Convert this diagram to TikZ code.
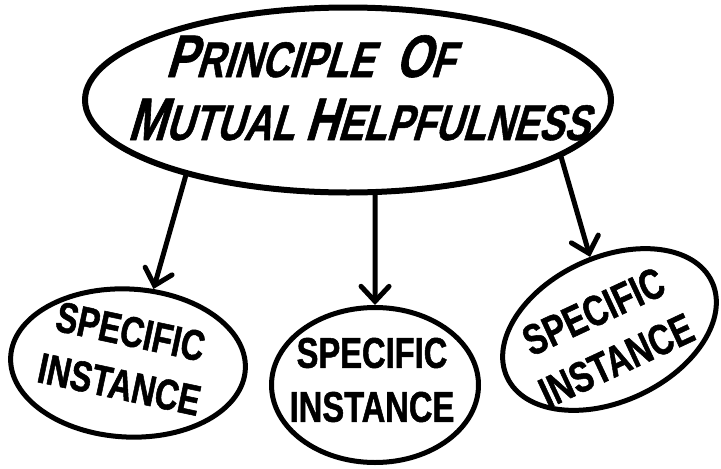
\documentclass[tikz,border=0pt]{standalone}
\usepackage{fontspec}
\newfontfamily\handfont{Liberation Sans}[FakeStretch=0.76,FakeBold=1.2]
\newfontfamily\handslant{Liberation Sans}[FakeStretch=0.76,FakeSlant=0.3,FakeBold=1]
\usetikzlibrary{shapes.geometric,arrows.meta}
\newcommand{\bigletter}[1]{{\fontsize{60}{60}\selectfont #1}}
\tikzset{bubble/.style={draw,ellipse,line width=5pt,inner sep=0pt},
         bubbletext/.style={inner sep=0pt,align=center,
           font=\handfont\bfseries\fontsize{43}{54}\selectfont},
         toptext/.style={inner sep=0pt,anchor=base west,
           font=\handslant\bfseries\fontsize{50}{54}\selectfont}
}
\tikzstyle{arrow} = [line width=5pt,line cap=round,-{Straight Barb[length=15pt,width=28pt,line width=5pt,line cap=round]}]

\begin{document}
\begin{tikzpicture}[x=1pt,y=-1pt]

\useasboundingbox (0,0) rectangle (721,469);
\node[draw,ellipse,line width=6pt,minimum width=526pt,minimum height=185pt] (principle) at (348,100) {};
\node[toptext] (line1) at (165,77) {\bigletter{P}RINCIPLE\hspace{22pt}\bigletter{O}F};
\node[toptext] (line2) at (127,140) {\bigletter{M}UTUAL \bigletter{H}ELPFULNESS};
\node[bubble,rotate=-3,minimum width=235pt,minimum height=148pt] (inst1) at (128,363) {};
\node[bubble,minimum width=207pt,minimum height=155pt] (inst2) at (375,385) {};
\node[bubble,rotate=25,minimum width=226pt,minimum height=144pt] (inst3) at (609.5,329.5) {};
\node[bubbletext,rotate=-12] (text1) at (125,358) {SPECIFIC\\INSTANCE};
\node[bubbletext] (text2) at (372,380) {SPECIFIC\\INSTANCE};
\node[bubbletext,rotate=25] (text3) at (605,336) {SPECIFIC\\INSTANCE};
\draw[arrow] (principle.-155.5)--(inst1.74);
\draw[arrow] (principle.-74.2)--(inst2.north);
\draw[arrow] (principle.-15.8)--(inst3.80);

\end{tikzpicture}
\end{document}
